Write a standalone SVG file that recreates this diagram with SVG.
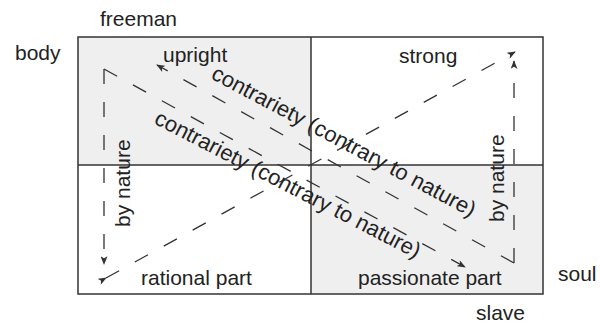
<svg xmlns="http://www.w3.org/2000/svg" width="600" height="325" viewBox="0 0 600 325">
  <style>
    text { font-family: "Liberation Sans", Arial, sans-serif; font-size: 21px; fill: #222; }
    .diag { font-size: 22px; }
    .frame { fill: none; stroke: #333; stroke-width: 1.5; }
    .shade { fill: #efefef; stroke: none; }
    .link { fill: none; stroke: #333; stroke-width: 1.3; stroke-dasharray: 15 18; }
  </style>
  <defs>
    <marker id="head" viewBox="0 0 10 8" refX="9" refY="4" markerWidth="9" markerHeight="7" markerUnits="userSpaceOnUse" orient="auto">
      <path d="M0,0 L10,4 L0,8 L2.5,4 z" fill="#333"/>
    </marker>
  </defs>

  <!-- quadrant grid -->
  <g id="grid">
    <rect class="shade" x="78" y="37" width="233" height="128"/>
    <rect class="shade" x="311" y="165" width="232" height="129"/>
    <rect class="frame" x="78" y="37" width="465" height="257"/>
    <line class="frame" x1="311" y1="37" x2="311" y2="294"/>
    <line class="frame" x1="78" y1="165" x2="543" y2="165"/>
  </g>

  <!-- axis labels -->
  <g id="freeman"><text x="100" y="26">freeman</text></g>
  <g id="slave"><text x="476" y="320">slave</text></g>
  <g id="body"><text x="15" y="60">body</text></g>
  <g id="soul"><text x="558" y="281">soul</text></g>

  <!-- quadrant nodes -->
  <g id="upright"><text x="163" y="62">upright</text></g>
  <g id="strong"><text x="399" y="63">strong</text></g>
  <g id="rational-part"><text x="141" y="285">rational part</text></g>
  <g id="passionate-part"><text x="358" y="285">passionate part</text></g>

  <!-- connectors -->
  <g id="connectors">
    <line class="link" x1="104" y1="69" x2="104" y2="264" marker-end="url(#head)"/>
    <line class="link" x1="514" y1="263" x2="514" y2="61" marker-end="url(#head)"/>
    <line class="link" x1="104" y1="69" x2="465" y2="267" marker-end="url(#head)"/>
    <line class="link" x1="514" y1="263" x2="157" y2="65" marker-end="url(#head)"/>
    <line class="link" x1="106" y1="278" x2="515" y2="52" marker-start="url(#head)" marker-end="url(#head)"/>
  </g>

  <!-- connector labels -->
  <g id="connector-labels">
    <text transform="translate(130,227) rotate(-90)">by nature</text>
    <text transform="translate(504,222) rotate(-90)">by nature</text>
    <text class="diag" transform="translate(210,78) rotate(28.1)">contrariety (contrary to nature)</text>
    <text class="diag" transform="translate(153,123) rotate(27.3)">contrariety (contrary to nature)</text>
  </g>
</svg>
